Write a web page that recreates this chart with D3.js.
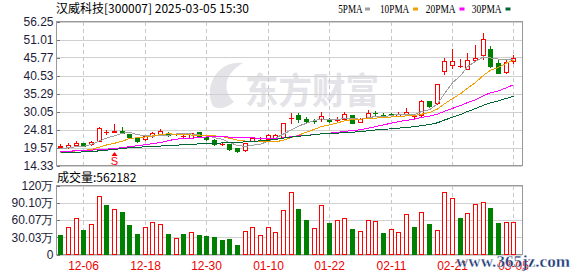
<!DOCTYPE html>
<html><head><meta charset="utf-8">
<script src="https://cdn.jsdelivr.net/npm/d3@7"></script>
<style>body{margin:0;background:#fff}svg{display:block}</style>
</head><body><svg id="c" width="578" height="276"></svg>
<script>
const dates = ["12-03","12-04","12-05","12-06","12-09","12-10","12-11","12-12","12-13","12-16","12-17","12-18","12-19","12-20","12-23","12-24","12-25","12-26","12-27","12-30","12-31","01-02","01-03","01-06","01-07","01-08","01-09","01-10","01-13","01-14","01-15","01-16","01-17","01-20","01-21","01-22","01-23","01-24","01-27","02-05","02-06","02-07","02-10","02-11","02-12","02-13","02-14","02-17","02-18","02-19","02-20","02-21","02-24","02-25","02-26","02-27","02-28","03-03","03-04","03-05"];
const opens  = [19.8,19.7,20.4,20.9,20.5,21.6,24.1,24.2,24.35,23.4,22.2,21.9,22.9,23.4,23.7,23.6,22.9,22.4,24.0,22.7,21.7,20.55,20.5,19.3,18.7,21.6,22.3,22.0,22.2,22.6,28.1,29.1,27.85,27.3,27.8,27.85,27.7,27.9,28.9,27.0,28.25,29.7,29.0,29.2,28.8,29.4,28.8,29.0,33.1,32.4,41.85,43.5,43.2,42.35,45.1,46.4,48.3,44.3,41.6,44.7];
const highs  = [20.5,20.9,21.5,21.0,21.5,25.4,24.6,26.3,25.4,23.6,22.3,23.2,24.05,24.85,24.0,23.8,23.1,23.8,24.1,22.9,22.0,20.8,20.6,19.4,21.0,22.6,22.5,23.4,23.6,26.8,29.5,29.5,28.5,27.8,29.9,28.1,28.35,29.8,29.1,28.1,30.5,30.1,29.6,29.6,29.8,31.15,29.3,33.4,33.2,38.1,45.65,48.2,45.3,47.0,49.5,52.9,49.15,44.9,45.3,46.5];
const lows   = [19.5,19.3,19.95,20.0,20.25,21.4,23.55,24.0,23.7,22.4,21.05,21.7,22.7,23.2,23.0,23.1,22.4,22.3,22.8,21.8,20.35,20.3,18.9,18.3,18.6,21.5,21.8,21.9,21.9,22.5,26.8,27.0,26.7,26.8,27.35,26.9,27.1,27.7,26.6,26.9,28.05,28.9,28.5,28.6,28.6,28.9,28.3,28.8,31.4,32.2,40.98,42.8,42.9,42.3,45.0,45.3,43.1,41.2,41.2,44.3];
const closes = [20.1,20.2,20.9,20.1,21.1,25.2,24.1,24.4,23.8,22.5,21.6,22.8,23.7,24.35,23.3,23.4,22.9,23.7,22.9,22.0,20.6,20.55,19.0,18.6,20.75,22.2,22.3,23.1,23.2,26.6,28.3,27.8,27.2,27.25,28.8,27.2,27.85,29.3,26.8,27.85,29.5,29.5,28.85,29.0,29.3,29.9,28.8,33.1,31.7,37.95,44.7,44.75,43.2,45.0,45.6,51.1,43.4,41.4,44.6,45.65];
const prevClose0 = 20.3;
// volume in 万 (10k shares)
const volumes = [33.5,48.5,64,43.3,52.5,102,85.4,79.6,73.3,50.8,35.2,48.5,57.1,53.7,35.2,29.4,35.2,39.8,33.5,31.7,30,24.8,26.5,16.2,41.5,48.5,34.6,48.5,39.8,77.9,109,78.5,59.4,46.7,85.4,54.8,60.6,64,43.9,41.5,60.6,57.7,37.5,43.9,38.7,69.8,47.3,74.4,52.5,43.3,109,98.7,62.9,72.7,88.3,91.7,80.2,54.2,57.1,56.2182];
const ma5Head  = [19.2,19.5,19.8,19.9];
const ma10Head = [18.0,18.3,18.6,18.7,19.0,19.7,20.3,20.8,21.4];
const ma20Head = [18.4,18.5,18.6,18.7,18.8,19.0,19.1,19.3,19.5,19.8,20.1,20.4,20.7,21.0,21.6,22.0,22.2,22.3,22.4];
const ma30Head = [18.1,18.1,18.2,18.3,18.4,18.6,18.8,19.0,19.3,19.5,19.6,19.8,19.9,20.0,20.1,20.25,20.4,20.55,20.6,20.7,20.8,20.9,21.0,21.1,21.2,21.35,21.5,21.7,21.9];
const priceTicks = [14.33,19.57,24.81,30.05,35.29,40.53,45.77,51.01,56.25];
const volTicks = [0,30.03,60.07,90.10,120.13];
const volTickLabels = ["0","30.03万","60.07万","90.10万","120万"];
const dateTicks = ["12-06","12-18","12-30","01-10","01-22","02-11","02-21","03-05"];
const maNames = ["5PMA","10PMA","20PMA","30PMA"];
const title = "汉威科技[300007] 2025-03-05 15:30";
const volTitle = "成交量:562182";

const RED="#ff0000", GREEN="#008000";
const maColors=["#a0a0a0","#f0a000","#ff00ff","#006633"];
const svg=d3.select("#c");
const L=56, R=522, pTop=21.5, pBot=165.5, vTop=185.5, vBot=254.5;
const x=d3.scaleBand().domain(d3.range(dates.length)).range([56.5,517.3]);
const xc=i=>Math.round(x(i)+x.bandwidth()/2);
const yp=d3.scaleLinear().domain([14.33,56.25]).range([pBot,pTop]);
const yv=d3.scaleLinear().domain([0,120.13]).range([vBot,vTop]);
const numFont="'Liberation Sans',Arial,sans-serif";

// watermark
const wm=svg.append("g");
wm.append("text").attr("x",245).attr("y",104).attr("font-family","'Noto Sans CJK SC'").attr("font-weight","bold")
  .attr("font-size",36).attr("textLength",134).attr("lengthAdjust","spacingAndGlyphs").attr("fill","#e3e3e8").text("东方财富");
wm.append("path").attr("d","M213,106 C203,86 218,60 243,63 C227,72 220,88 234,102 C227,108 218,110 213,106 Z").attr("fill","#e3e3e8");

// grid
const grid=svg.append("g").attr("shape-rendering","crispEdges");
priceTicks.forEach(t=>grid.append("line").attr("x1",L).attr("x2",R).attr("y1",Math.round(yp(t))+0.5).attr("y2",Math.round(yp(t))+0.5).attr("stroke","#d0d0d0"));
volTicks.forEach(t=>grid.append("line").attr("x1",L).attr("x2",R).attr("y1",Math.round(yv(t))+0.5).attr("y2",Math.round(yv(t))+0.5).attr("stroke","#d0d0d0"));
dateTicks.forEach(d=>{const i=dates.indexOf(d);const xx=xc(i)+0.5;
  [[pTop,pBot],[vTop,vBot]].forEach(([a,b])=>grid.append("line").attr("x1",xx).attr("x2",xx).attr("y1",a).attr("y2",b).attr("stroke","#c8c8c8").attr("stroke-dasharray","4,3"));});
// frames
svg.append("rect").attr("x",L+0.5).attr("y",pTop).attr("width",R-L).attr("height",pBot-pTop).attr("fill","none").attr("stroke","#999").attr("shape-rendering","crispEdges");
svg.append("rect").attr("x",L+0.5).attr("y",vTop).attr("width",R-L).attr("height",vBot-vTop).attr("fill","none").attr("stroke","#999").attr("shape-rendering","crispEdges");

// axes
const pa=svg.append("g").attr("transform",`translate(${L+0.5},0)`).call(d3.axisLeft(yp).tickValues(priceTicks).tickFormat(d3.format(".2f")).tickSizeInner(-3).tickSizeOuter(0).tickPadding(3));
const va=svg.append("g").attr("transform",`translate(${L+0.5},0)`).call(d3.axisLeft(yv).tickValues(volTicks).tickFormat((d,i)=>volTickLabels[i]).tickSizeInner(-3).tickSizeOuter(0).tickPadding(3));
[pa,va].forEach(g=>{g.select(".domain").remove();g.selectAll("line").attr("stroke","#777").attr("shape-rendering","crispEdges");
  g.selectAll("text").attr("font-family",numFont).attr("font-size",12).attr("fill","#1c1c3a");});
dateTicks.forEach(d=>{const i=dates.indexOf(d);
  svg.append("text").attr("x",xc(i)+0.5).attr("y",270).attr("text-anchor","middle").attr("font-family",numFont).attr("font-size",12).attr("fill","#ee0000").text(d);});

// candles
const cg=svg.append("g").attr("shape-rendering","crispEdges");
dates.forEach((d,i)=>{
  const cx=xc(i), up=closes[i]>=opens[i], col=up?RED:GREEN;
  cg.append("line").attr("x1",cx+0.5).attr("x2",cx+0.5).attr("y1",Math.round(yp(highs[i]))).attr("y2",Math.round(yp(lows[i]))+1).attr("stroke",col);
  const y1=Math.round(yp(Math.max(opens[i],closes[i]))), y2=Math.round(yp(Math.min(opens[i],closes[i])));
  if(y2-y1<1){cg.append("line").attr("x1",cx-2).attr("x2",cx+3).attr("y1",y1+0.5).attr("y2",y1+0.5).attr("stroke",col);}
  else if(up){cg.append("rect").attr("x",cx-1.5).attr("y",y1+0.5).attr("width",4).attr("height",y2-y1).attr("fill","#fff").attr("stroke",col);}
  else{cg.append("rect").attr("x",cx-2).attr("y",y1).attr("width",5).attr("height",y2-y1+1).attr("fill",col);}
});
// volume bars
const vg=svg.append("g").attr("shape-rendering","crispEdges");
volumes.forEach((v,i)=>{
  const cx=xc(i), pc=i?closes[i-1]:prevClose0, up=closes[i]>=pc;
  const yt=Math.round(yv(v));
  if(up) vg.append("rect").attr("x",cx-1.5).attr("y",yt+0.5).attr("width",4).attr("height",Math.round(vBot)-yt-1).attr("fill","#fff").attr("stroke",RED);
  else vg.append("rect").attr("x",cx-2).attr("y",yt).attr("width",5).attr("height",Math.round(vBot)-yt).attr("fill",GREEN);
});
// moving averages
function ma(n,head){return closes.map((c,i)=>i>=n-1?d3.mean(closes.slice(i-n+1,i+1)):head[i]);}
const mas=[ma(5,ma5Head),ma(10,ma10Head),ma(20,ma20Head),ma(30,ma30Head)];
const line=d3.line().x((v,i)=>xc(i)+0.5).y(v=>yp(v));
mas.forEach((m,k)=>svg.append("path").attr("d",line(m)).attr("fill","none").attr("stroke",maColors[k]).attr("stroke-width",1).attr("shape-rendering","crispEdges"));

// S marker
const si=dates.indexOf("12-12"), sx=xc(si)+0.5;
svg.append("path").attr("d",`M${sx-3},156 L${sx},152 L${sx+3},156 Z`).attr("fill",RED);
svg.append("text").attr("x",sx).attr("y",165).attr("text-anchor","middle").attr("font-family",numFont).attr("font-size",11).attr("fill",RED).text("S");

// titles
svg.append("text").attr("x",56).attr("y",13).attr("font-family","'Noto Sans CJK SC'").attr("font-size",12).attr("fill","#000").text(title);
svg.append("text").attr("x",57).attr("y",182).attr("font-family","'Noto Sans CJK SC'").attr("font-size",12).attr("fill","#000").text(volTitle);
// legend
const lg=[[338.3,24.4,365],[380,29.3,413],[425.7,30,459.5],[471.7,30,505.5]];
maNames.forEach((n,k)=>{
  svg.append("text").attr("x",lg[k][0]).attr("y",12.7).attr("font-family","'Liberation Serif',serif").attr("font-size",12).attr("textLength",lg[k][1]).attr("lengthAdjust","spacingAndGlyphs").attr("fill","#000").text(n);
  svg.append("rect").attr("x",lg[k][2]).attr("y",7.5).attr("width",5).attr("height",3).attr("fill",maColors[k]);
});
// site watermark
svg.append("text").attr("x",456).attr("y",266.5).attr("font-family","'Liberation Serif',serif").attr("font-weight","bold").attr("font-size",16.5)
  .attr("textLength",114).attr("lengthAdjust","spacingAndGlyphs").attr("fill","#1d3b78").attr("stroke","#fff").attr("stroke-width",0.3).text("www.365jz.com");
</script></body></html>
